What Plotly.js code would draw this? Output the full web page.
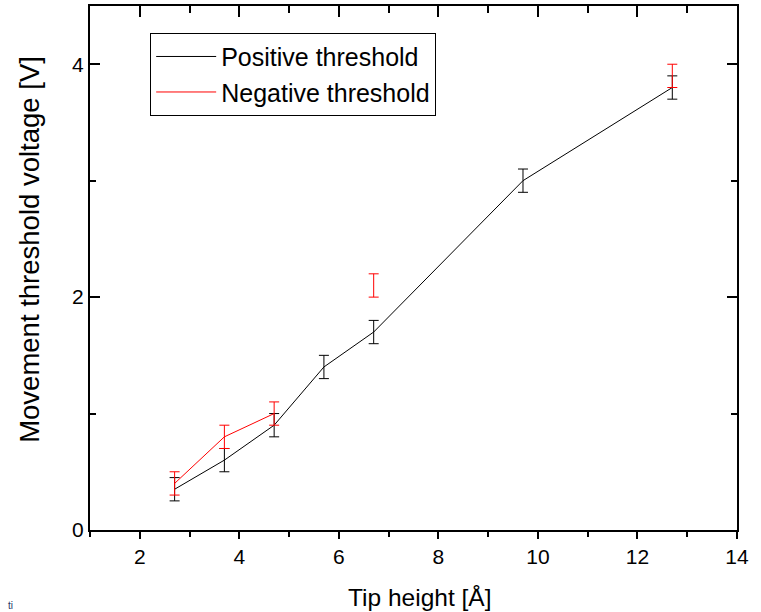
<!DOCTYPE html>
<html>
<head>
<meta charset="utf-8">
<script src="https://cdn.plot.ly/plotly-3.0.1.min.js"></script>
<style>html,body{margin:0;padding:0;background:#fff;}</style>
</head>
<body>
<div id="chart" style="width:761px;height:612px;"></div>
<script>
// Data
const tipHeight = [2.7, 3.7, 4.7, 5.7, 6.7, 9.7, 12.7];
const positiveThreshold = [0.35, 0.6, 0.9, 1.4, 1.7, 3.0, 3.8];
const positiveError = [0.1, 0.1, 0.1, 0.1, 0.1, 0.1, 0.1];
const negativeThreshold = [0.4, 0.8, 1.0, null, 2.1, null, 3.9];
const negativeError = [0.1, 0.1, 0.1, 0, 0.1, 0, 0.1];
const xTickVals = [2, 4, 6, 8, 10, 12, 14];
const yTickVals = [0, 2, 4];

const FONT = 'Arial, "Liberation Sans", sans-serif';

const traces = [
  {
    name: 'Positive threshold',
    x: tipHeight, y: positiveThreshold,
    type: 'scatter', mode: 'lines',
    line: {color: '#000000', width: 1},
    error_y: {type: 'data', array: positiveError, visible: true, color: '#000000', thickness: 1, width: 5}
  },
  {
    name: 'Negative threshold',
    x: tipHeight, y: negativeThreshold,
    type: 'scatter', mode: 'lines', connectgaps: false,
    line: {color: '#ff0000', width: 1},
    error_y: {type: 'data', array: negativeError, visible: true, color: '#ff0000', thickness: 1, width: 5}
  },
  {
    // carrier for the top (mirrored) axis only; draws nothing
    x: tipHeight, y: positiveThreshold, xaxis: 'x2', yaxis: 'y',
    type: 'scatter', mode: 'lines', line: {width: 0, color: 'rgba(0,0,0,0)'},
    showlegend: false, hoverinfo: 'skip'
  }
];

const layout = {
  width: 761, height: 612,
  margin: {l: 90, r: 24, t: 6, b: 82, pad: 0},
  paper_bgcolor: '#ffffff', plot_bgcolor: '#ffffff',
  font: {family: FONT, color: '#000000', size: 21},
  showlegend: true,
  legend: {
    x: 0.093, y: 0.949, xanchor: 'left', yanchor: 'top',
    bgcolor: '#ffffff', bordercolor: '#000000', borderwidth: 1,
    font: {family: FONT, size: 25, color: '#000000'},
    itemwidth: 60, tracegroupgap: 0
  },
  xaxis: {
    range: [1, 14], tickvals: xTickVals, ticks: 'outside', ticklen: 7, tickwidth: 2, tickcolor: '#000',
    showline: true, linewidth: 2, linecolor: '#000', mirror: false,
    showgrid: false, zeroline: false,
    tickfont: {family: FONT, size: 21, color: '#000'},
    minor: {dtick: 1, ticks: 'outside', ticklen: 5, tickwidth: 2, tickcolor: '#000', showgrid: false}
  },
  xaxis2: {
    overlaying: 'x', side: 'top', anchor: 'y',
    range: [1, 14], tickvals: xTickVals, ticks: 'inside', ticklen: 11, tickwidth: 2, tickcolor: '#000',
    showline: true, linewidth: 2, linecolor: '#000',
    showticklabels: false, showgrid: false, zeroline: false,
    minor: {dtick: 1, ticks: 'inside', ticklen: 7, tickwidth: 2, tickcolor: '#000', showgrid: false}
  },
  yaxis: {
    range: [0, 4.5], tickvals: yTickVals, ticks: 'inside', ticklen: 10, tickwidth: 2, tickcolor: '#000',
    showline: true, linewidth: 2, linecolor: '#000', mirror: 'ticks',
    showgrid: false, zeroline: false,
    tickfont: {family: FONT, size: 21, color: '#000'},
    minor: {dtick: 1, ticks: 'inside', ticklen: 6, tickwidth: 2, tickcolor: '#000', showgrid: false}
  },
  annotations: [
    {text: 'Tip height [Å]', xref: 'paper', yref: 'paper', x: 0.51, y: -0.128,
     xanchor: 'center', yanchor: 'middle', showarrow: false,
     font: {family: FONT, size: 24.5, color: '#000'}},
    {text: 'Movement threshold voltage [V]', xref: 'paper', yref: 'paper', x: -0.094, y: 0.535,
     xanchor: 'center', yanchor: 'middle', textangle: -90, showarrow: false,
     font: {family: FONT, size: 27.5, color: '#000'}},
    {text: 'ti', xref: 'paper', yref: 'paper', x: -0.128, y: -0.1565,
     xanchor: 'left', yanchor: 'bottom', showarrow: false, borderpad: 0,
     font: {family: FONT, size: 10, color: '#1f3864'}}
  ]
};

Plotly.newPlot('chart', traces, layout, {displayModeBar: false, staticPlot: true});
</script>
</body>
</html>
